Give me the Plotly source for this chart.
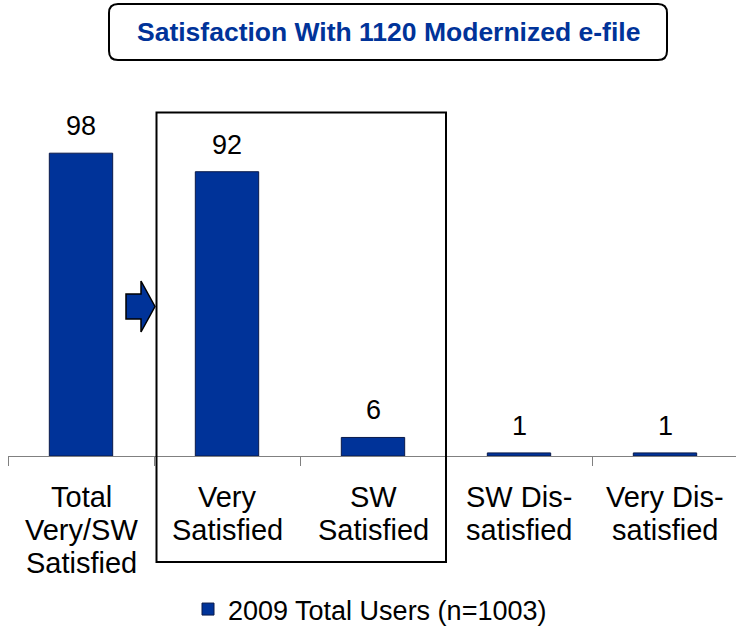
import plotly.graph_objects as go

categories = ["Total Very/SW Satisfied", "Very Satisfied", "SW Satisfied", "SW Dis-satisfied", "Very Dis-satisfied"]
tick_labels = ["Total<br>Very/SW<br>Satisfied", "Very<br>Satisfied", "SW<br>Satisfied", "SW Dis-<br>satisfied", "Very Dis-<br>satisfied"]
values = [98, 92, 6, 1, 1]
series_name = "2009 Total Users (n=1003)"
title_text = "Satisfaction With 1120 Modernized e-file"

W, H = 736, 634
ML, MR, MT, MB = 8, 0, 100, 178
PW = W - ML - MR
PH = H - MT - MB
FONT = "Liberation Sans, Arial, sans-serif"
BLUE = "#003399"


def px(x):
    return (x - ML) / PW


def py(y):
    return (H - MB - y) / PH


fig = go.Figure()
fig.add_trace(go.Bar(
    x=categories, y=values, name=series_name, width=0.434,
    marker=dict(color=BLUE, line=dict(color="#0a1a4a", width=1)),
    showlegend=True,
))

annotations = []
for c, v in zip(categories, values):
    annotations.append(dict(x=c, y=v, xref="x", yref="y", text=str(v), showarrow=False,
                            yanchor="bottom", yshift=10,
                            font=dict(family=FONT, size=27, color="#000000")))
for c, t in zip(categories, tick_labels):
    for i, line in enumerate(t.split("<br>")):
        annotations.append(dict(x=c, y=py(497 + 33 * i), xref="x", yref="paper", text=line,
                                showarrow=False, yanchor="middle", align="center",
                                font=dict(family=FONT, size=29, color="#000000")))
annotations.append(dict(x=px(388), y=py(31.5), xref="paper", yref="paper", text="<b>" + title_text + "</b>",
                        showarrow=False, xanchor="center", yanchor="middle",
                        font=dict(family=FONT, size=26.5, color=BLUE)))

# rounded title box
x0, x1, y0, y1, r = 109, 667, 4, 60, 9
rr = (f"M {px(x0 + r)} {py(y0)} L {px(x1 - r)} {py(y0)} Q {px(x1)} {py(y0)} {px(x1)} {py(y0 + r)} "
      f"L {px(x1)} {py(y1 - r)} Q {px(x1)} {py(y1)} {px(x1 - r)} {py(y1)} "
      f"L {px(x0 + r)} {py(y1)} Q {px(x0)} {py(y1)} {px(x0)} {py(y1 - r)} "
      f"L {px(x0)} {py(y0 + r)} Q {px(x0)} {py(y0)} {px(x0 + r)} {py(y0)} Z")

arrow_pts = [(126, 294), (141, 294), (141, 281), (155, 306.5), (141, 332), (141, 319), (126, 319)]
arrow = "M " + " L ".join(f"{px(a)} {py(b)}" for a, b in arrow_pts) + " Z"

shapes = [
    dict(type="path", path=rr, xref="paper", yref="paper", line=dict(color="#000000", width=2),
         fillcolor="rgba(0,0,0,0)"),
    dict(type="rect", xref="paper", yref="paper", x0=px(156.5), x1=px(446), y0=py(562), y1=py(112.5),
         line=dict(color="#000000", width=2), fillcolor="rgba(0,0,0,0)"),
    dict(type="path", path=arrow, xref="paper", yref="paper", line=dict(color="#000000", width=1.5),
         fillcolor=BLUE),
]

fig.update_layout(
    width=W, height=H,
    margin=dict(l=ML, r=MR, t=MT, b=MB, autoexpand=False),
    paper_bgcolor="white", plot_bgcolor="white",
    font=dict(family=FONT, color="#000000"),
    xaxis=dict(type="category", range=[-0.5, -0.5 + PW / 146], showline=True, linecolor="#808080",
               linewidth=1, ticks="outside", tickson="boundaries", ticklen=9, tickcolor="#808080",
               tickwidth=1, showticklabels=False, showgrid=False, zeroline=False, fixedrange=True,
               automargin=False),
    yaxis=dict(range=[0, PH / 3.09], visible=False, showgrid=False, zeroline=False, automargin=False),
    showlegend=True,
    legend=dict(orientation="h", x=px(188), xanchor="left", y=py(634), yanchor="bottom",
                font=dict(family=FONT, size=27, color="#000000"), bgcolor="rgba(0,0,0,0)",
                borderwidth=0),
    annotations=annotations,
    shapes=shapes,
    bargap=0.5,
)

fig.write_html("out.html", config={"displayModeBar": False},
               post_script="document.body.style.margin='0';document.body.style.overflow='hidden';")
